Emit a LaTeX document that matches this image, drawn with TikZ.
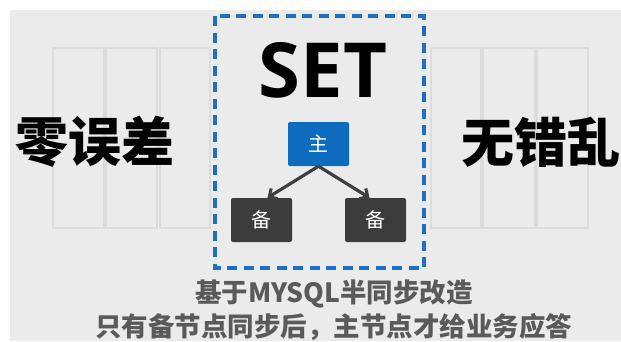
\documentclass[tikz,border=0pt]{standalone}
\usepackage{fontspec}
\newfontfamily\cjk{Noto Sans CJK SC}
\newfontfamily\cjkblack{Noto Sans CJK SC Black}
\newfontfamily\setfont{Open Sans}
\usetikzlibrary{arrows.meta}
\definecolor{bg}{HTML}{EBEBEB}
\definecolor{ghostc}{HTML}{DCDCDC}
\definecolor{dashblue}{HTML}{1C6FC4}
\definecolor{masterblue}{HTML}{0E6CBF}
\definecolor{darkbox}{HTML}{3C3C3C}
\definecolor{arrowc}{HTML}{3F3F3F}
\definecolor{captionc}{HTML}{5A5A5A}
\tikzset{
  ghost/.style={draw=ghostc, line width=2.5pt},
  setbox/.style={draw=dashblue, line width=3.6pt, dash pattern=on 10pt off 6.5pt},
  master/.style={fill=masterblue, rounded corners=2pt, minimum width=61pt, minimum height=44pt, inner sep=0pt, text=white, font=\cjk\fontsize{20}{20}\selectfont},
  slave/.style={fill=darkbox, rounded corners=2pt, minimum width=61pt, minimum height=44pt, inner sep=0pt, text=white, font=\cjk\fontsize{20}{20}\selectfont},
  arr/.style={draw=arrowc, line width=3.2pt, -{Straight Barb[length=6pt,width=12pt,line width=3pt]}},
  bigcjk/.style={inner sep=0pt, text=black, font=\cjkblack\fontsize{53}{53}\selectfont},
  caption/.style={inner sep=0pt, text=captionc, font=\cjk\bfseries\fontsize{26.5}{26.5}\selectfont}
}
\begin{document}
\begin{tikzpicture}[x=1pt,y=-1pt]
\useasboundingbox (0,0) rectangle (621,341);
\fill[white] (0,0) rectangle (621,341);
\fill[bg] (10,10) rectangle (621,341);
\foreach \a/\b in {53/104,106/157,160/210,431/481,483/535,537/588}
  \draw[ghost] (\a,48) rectangle (\b,228);
\draw[setbox] (215,16) rectangle (424,268);
\node[inner sep=0pt, font=\setfont\bfseries\fontsize{76}{76}\selectfont] (set) at (323,70) {SET};
\node[master] (zhu) at (318.5,144) {主};
\node[slave] (b1) at (261.5,220) {备};
\node[slave] (b2) at (375.5,220) {备};
\draw[arr] (zhu.south) -- (b1.75);
\draw[arr] (zhu.south) -- (b2.105);
\node[bigcjk] (left) at (95,142) {零误差};
\node[bigcjk] (right) at (541,142) {无错乱};
\node[caption] (c1) at (334,294) {基于MYSQL半同步改造};
\node[caption] (c2) at (333.5,327.5) {只有备节点同步后，主节点才给业务应答};
\end{tikzpicture}
\end{document}
